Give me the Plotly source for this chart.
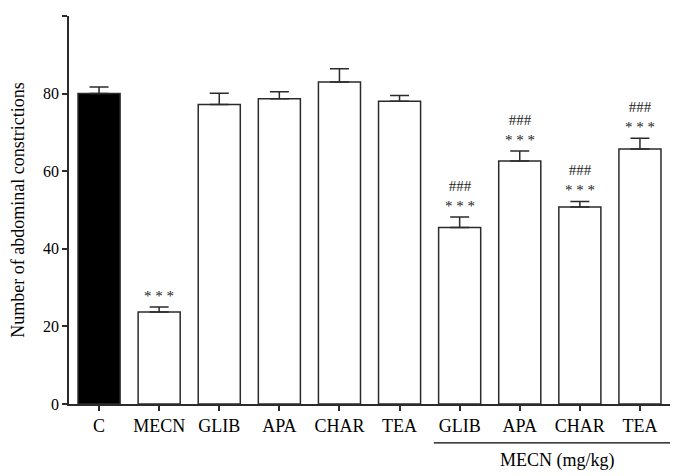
import plotly.graph_objects as go

labels = ['C', 'MECN', 'GLIB', 'APA', 'CHAR', 'TEA', 'GLIB', 'APA', 'CHAR', 'TEA']
means = [80.0, 23.7, 77.2, 78.7, 83.0, 78.0, 45.5, 62.6, 50.8, 65.7]
sem = [1.7, 1.3, 2.9, 1.8, 3.4, 1.5, 2.7, 2.6, 1.4, 2.8]
marks = ['', '* * *', '', '', '', '', '###<br>* * *', '###<br>* * *', '###<br>* * *', '###<br>* * *']
fills = ['#000000'] + ['#ffffff'] * 9
group_label = 'MECN (mg/kg)'

xs = list(range(len(labels)))
font = 'Liberation Serif, Times New Roman, serif'
ink = '#2b2b2b'

fig = go.Figure(go.Bar(
    x=xs, y=means, width=0.7,
    marker=dict(color=fills, line=dict(color=ink, width=1.5)),
    error_y=dict(type='data', array=sem, arrayminus=[0] * len(sem), symmetric=False,
                 color=ink, thickness=1.5, width=9.5),
))

for x, m, s, t in zip(xs, means, sem, marks):
    if t:
        fig.add_annotation(x=x, y=m + s, text=t, showarrow=False, yanchor='bottom',
                           yshift=1, font=dict(family=font, size=15, color='#222'))

# bracket for the MECN groups
fig.add_shape(type='line', xref='x', yref='paper', x0=5.57, x1=9.55, y0=-0.1, y1=-0.1,
              line=dict(color='#000', width=1.2))
fig.add_annotation(x=7.62, xref='x', y=-0.146, yref='paper', text=group_label, showarrow=False,
                   yanchor='middle', font=dict(family=font, size=18, color='#000'))

# page body adds 8px margin, so margins are shifted to compensate
fig.update_layout(
    width=680, height=476,
    margin=dict(l=61, r=18, t=8, b=80),
    paper_bgcolor='white', plot_bgcolor='white',
    font=dict(family=font, size=18, color='#000'),
    showlegend=False, bargap=0.3,
)
fig.update_xaxes(range=[-0.5, 9.5], tickvals=xs, ticktext=labels, showline=True,
                 linecolor=ink, linewidth=1.5, ticks='outside', ticklen=5, tickcolor=ink,
                 tickwidth=1.5, showgrid=False, zeroline=False, tickfont=dict(size=18))
fig.update_yaxes(range=[0, 100], dtick=20, showline=True, linecolor=ink, linewidth=1.5,
                 ticks='outside', ticklen=5, tickcolor=ink, tickwidth=1.5, showgrid=False,
                 zeroline=False, tickfont=dict(size=16),
                 title=dict(text='Number of abdominal constrictions', font=dict(size=18), standoff=14))

fig.write_html('out.html')
